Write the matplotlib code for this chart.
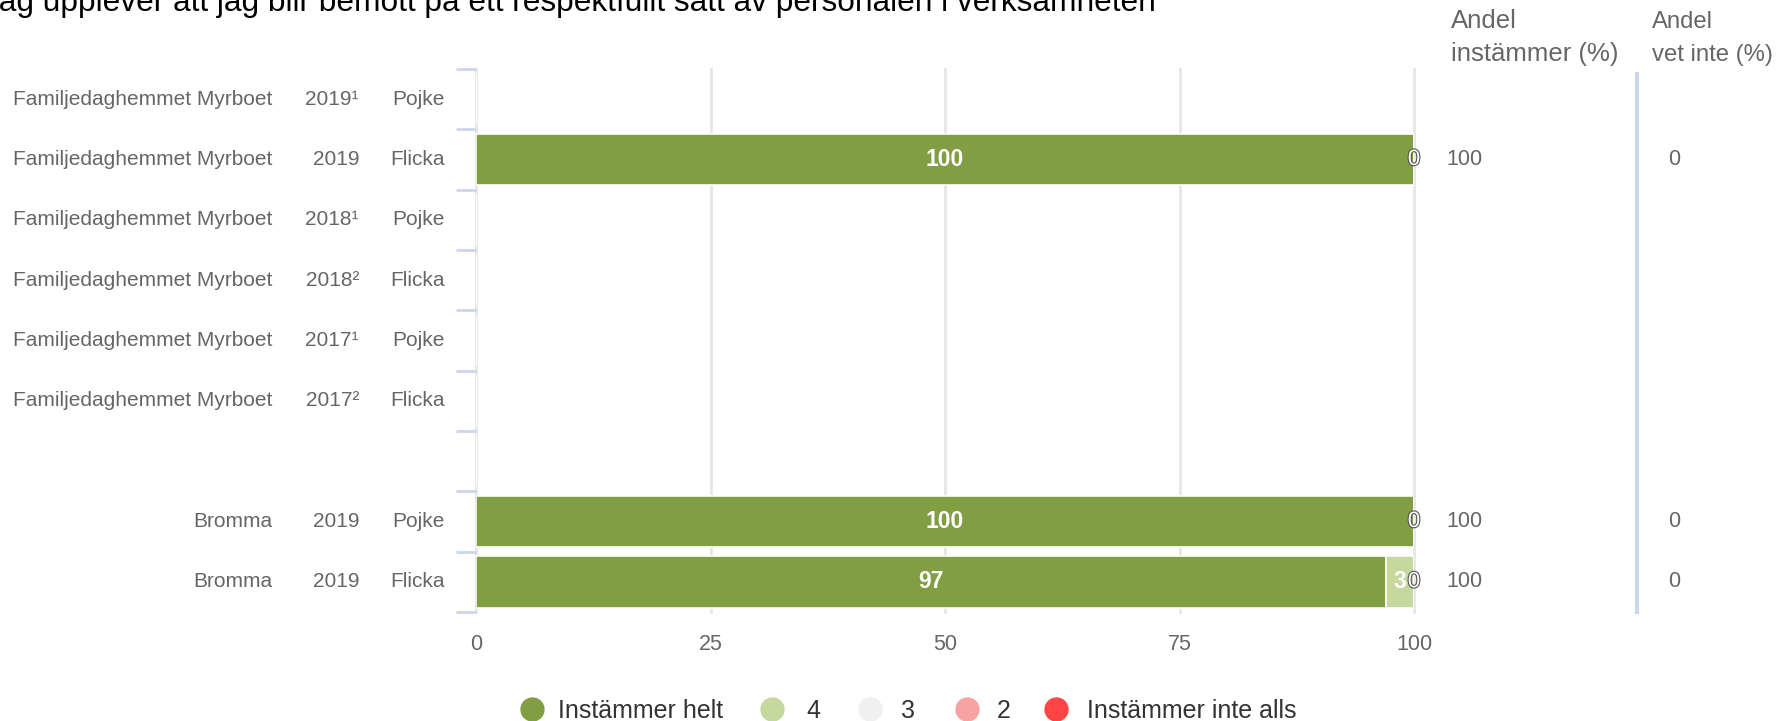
import numpy as np
import matplotlib
matplotlib.use("Agg")
import matplotlib.pyplot as plt
from matplotlib.lines import Line2D
from matplotlib.transforms import blended_transform_factory
import matplotlib.patheffects as pe

plt.rcParams['font.family'] = ['Liberation Sans', 'DejaVu Sans']

title = "Jag upplever att jag blir bemött på ett respektfullt sätt av personalen i verksamheten"

# rows, top to bottom (one empty spacer row)
units = ["Familjedaghemmet Myrboet"] * 6 + ["", "Bromma", "Bromma"]
years = ["2019¹", "2019", "2018¹", "2018²", "2017¹", "2017²", "", "2019", "2019"]
genders = ["Pojke", "Flicka", "Pojke", "Flicka", "Pojke", "Flicka", "", "Pojke", "Flicka"]

nan = np.nan
series_names = ["Instämmer helt", "4", "3", "2", "Instämmer inte alls"]
helt = [nan, 100, nan, nan, nan, nan, nan, 100, 97]
s4 = [nan, 0, nan, nan, nan, nan, nan, 0, 3]
s3 = [nan, nan, nan, nan, nan, nan, nan, nan, 0]
s2 = [nan] * 9
inte_alls = [nan] * 9
colors = ["#819e42", "#c5d89e", "#f0f0f0", "#f7a3a3", "#ff4444"]

andel_instammer = ["", "100", "", "", "", "", "", "100", "100"]
andel_vet_inte = ["", "0", "", "", "", "", "", "0", "0"]

W, H = 1777, 721
fig = plt.figure(figsize=(W / 100, H / 100), dpi=100)
ax = fig.add_axes([476 / W, 1 - 612 / H, (1414 - 476) / W, (612 - 69) / H])

y = np.arange(len(units))
left = np.zeros(len(units))
for name, vals, col in zip(series_names, [helt, s4, s3, s2, inte_alls], colors):
    v = np.array(vals, dtype=float)
    ax.barh(y, np.nan_to_num(v), left=left, height=0.86, color=col,
            edgecolor="white", linewidth=1.2, zorder=3)
    for yi, (vi, li) in enumerate(zip(v, left)):
        if np.isnan(vi):
            continue
        if vi == 0:
            t = ax.text(li + vi / 2, yi, "0", color="white", fontsize=16,
                        ha="center", va="center", zorder=5, clip_on=False)
            t.set_path_effects([pe.withStroke(linewidth=1.6, foreground="#555555")])
        else:
            ax.text(li + vi / 2, yi, f"{vi:g}", color="white", fontsize=16.5,
                    fontweight="bold", ha="center", va="center", zorder=5)
    left = left + np.nan_to_num(v)

ax.set_xlim(0, 100)
ax.set_ylim(len(units) - 0.5, -0.5)
ax.set_xticks([0, 25, 50, 75, 100])
ax.tick_params(axis="x", length=0, pad=16, labelsize=15.5, labelcolor="#666666")
ax.grid(axis="x", color="#e6e6e6", linewidth=2, zorder=0)
for gl in ax.get_xgridlines():
    gl.set_clip_on(False)
ax.set_yticks(np.arange(-0.5, len(units), 1.0))
ax.set_yticklabels([])
ax.tick_params(axis="y", length=14.5, width=2, color="#ccd6eb")
for s in ax.spines.values():
    s.set_visible(False)

# row labels and right-hand columns
tr = blended_transform_factory(fig.transFigure, ax.transData)
for yi in y:
    ax.text(272 / W, yi, units[yi], transform=tr, ha="right", va="center",
            fontsize=15, color="#666666")
    ax.text(359 / W, yi, years[yi], transform=tr, ha="right", va="center",
            fontsize=15, color="#666666")
    ax.text(445 / W, yi, genders[yi], transform=tr, ha="right", va="center",
            fontsize=15, color="#666666")
    ax.text(1464 / W, yi, andel_instammer[yi], transform=tr, ha="center",
            va="center", fontsize=15.5, color="#666666")
    ax.text(1674 / W, yi, andel_vet_inte[yi], transform=tr, ha="center",
            va="center", fontsize=15.5, color="#666666")

for x0, fs, lines in [(1451, 18.5, ["Andel", "instämmer (%)"]),
                      (1652, 17.2, ["Andel", "vet inte (%)"])]:
    for k, line in enumerate(lines):
        fig.text(x0 / W, 1 - (28 + 33 * k) / H, line, ha="left", va="baseline",
                 fontsize=fs, color="#666666")
fig.add_artist(Line2D([1637 / W, 1637 / W], [1 - 74 / H, 1 - 612 / H],
                      transform=fig.transFigure, color="#ccd6eb", linewidth=3))

fig.text(-17 / W, 1 - 11 / H, title, ha="left", va="baseline", fontsize=22.8,
         color="#000000")

# legend
leg_marker_x = [532, 772, 870, 967, 1056]
leg_text_x = [558, 806, 901, 997, 1087]
for name, col, mx, tx in zip(series_names, colors, leg_marker_x, leg_text_x):
    fig.add_artist(Line2D([mx / W], [1 - 709 / H], transform=fig.transFigure,
                          marker="o", linestyle="", markersize=16.5,
                          markerfacecolor=col, markeredgecolor=col))
    fig.text(tx / W, 1 - 709 / H, name, ha="left", va="center_baseline",
             fontsize=18, color="#333333")

fig.savefig("out.png", dpi=100, facecolor="white")
